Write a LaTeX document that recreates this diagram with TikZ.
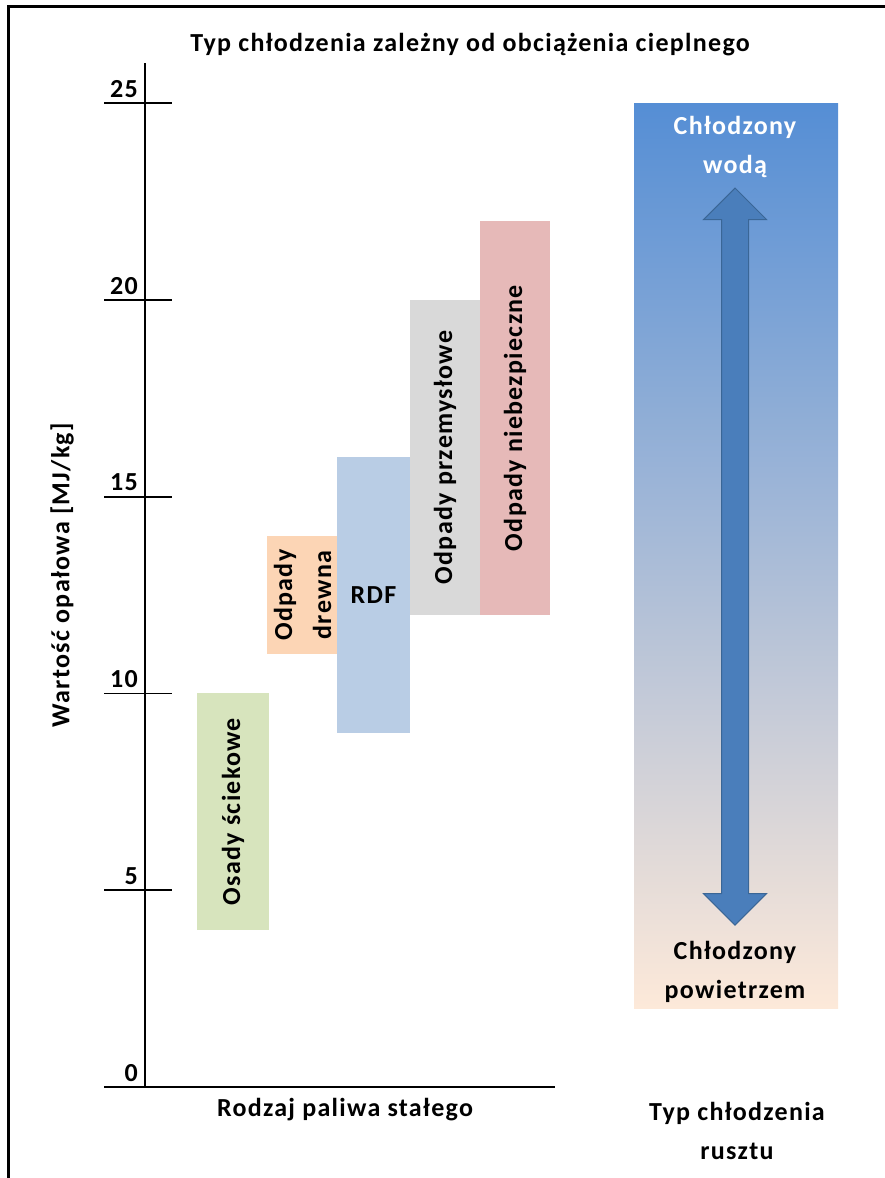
\documentclass[tikz,border=0pt]{standalone}
\usepackage{fontspec}
\setmainfont{Carlito}[LetterSpace=5]
\usetikzlibrary{shapes.arrows}

\definecolor{barGreen}{HTML}{D7E4BD}
\definecolor{barOrange}{HTML}{FCD5B5}
\definecolor{barBlue}{HTML}{B9CDE5}
\definecolor{barGray}{HTML}{D9D9D9}
\definecolor{barPink}{HTML}{E6B9B8}
\definecolor{coolTop}{HTML}{558ED5}
\definecolor{coolBottom}{HTML}{FDE9D9}
\definecolor{arrowFill}{HTML}{4A7EBB}
\definecolor{arrowLine}{HTML}{3A6696}

\tikzset{
  lbl/.style={font=\fontsize{26}{39}\selectfont\bfseries, inner sep=0pt, align=center},
  vlbl/.style={lbl, rotate=90},
}

\begin{document}
\begin{tikzpicture}[x=1pt, y=1pt]
    \useasboundingbox (0,0) rectangle (885,1178);
    \draw[line width=3pt] (8,0) -- (8,1171) -- (885,1171);

    \begin{scope}[shift={(145,91)}, y=39.35pt]
      \fill[barGreen]  (52,4)  rectangle (124,10);
      \fill[barOrange] (122,11) rectangle (193,14);
      \fill[barBlue]   (192,9)  rectangle (265,16);
      \fill[barGray]   (265,12) rectangle (335,20);
      \fill[barPink]   (335,12) rectangle (405,22);
      \shade[top color=coolTop, bottom color=coolBottom] (489,2) rectangle (693,25);

      \draw[line width=1.6pt] (0,0) -- (0,26.02);
      \draw[line width=1.6pt] (-41,0) -- (410,0);
      \foreach \v in {5,10,...,25}
        \draw[line width=1.6pt] (-41,\v) -- (27,\v);
      \foreach \v in {0,5,...,25}
        \node[lbl, anchor=base east] (t\v) at (-7,{\v+0.15}) {\v};

      \node[vlbl] (osady) at (88,7) {Osady ściekowe};
      \node[vlbl] (drewno) at (157.5,12.5) {Odpady\\drewna};
      \node[lbl] (rdf) at (228.5,12.5) {RDF};
      \node[vlbl] (przem) at (300,16) {Odpady przemysłowe};
      \node[vlbl] (niebezp) at (370,17) {Odpady niebezpieczne};

      \node[double arrow, rotate=90, fill=arrowFill, draw=arrowLine, line width=1pt,
            minimum height=737pt, minimum width=62pt, double arrow head extend=18pt,
            inner xsep=0pt, inner ysep=13pt] (strz) at (590,13.48) {};
      \node[lbl, white] (woda) at (590,23.88) {Chłodzony\\wodą};
      \node[lbl] (powietrze) at (590,2.92) {Chłodzony\\powietrzem};
      \node[lbl] (typ) at (592,-1.12) {Typ chłodzenia\\rusztu};

      \node[lbl] (xlabel) at (200,-0.58) {Rodzaj paliwa stałego};
      \node[vlbl] (ylabel) at (-83,13.01) {Wartość opałowa [MJ/kg]};
      \node[lbl] (title) at (325,26.48) {Typ chłodzenia zależny od obciążenia cieplnego};
    \end{scope}
\end{tikzpicture}
\end{document}
